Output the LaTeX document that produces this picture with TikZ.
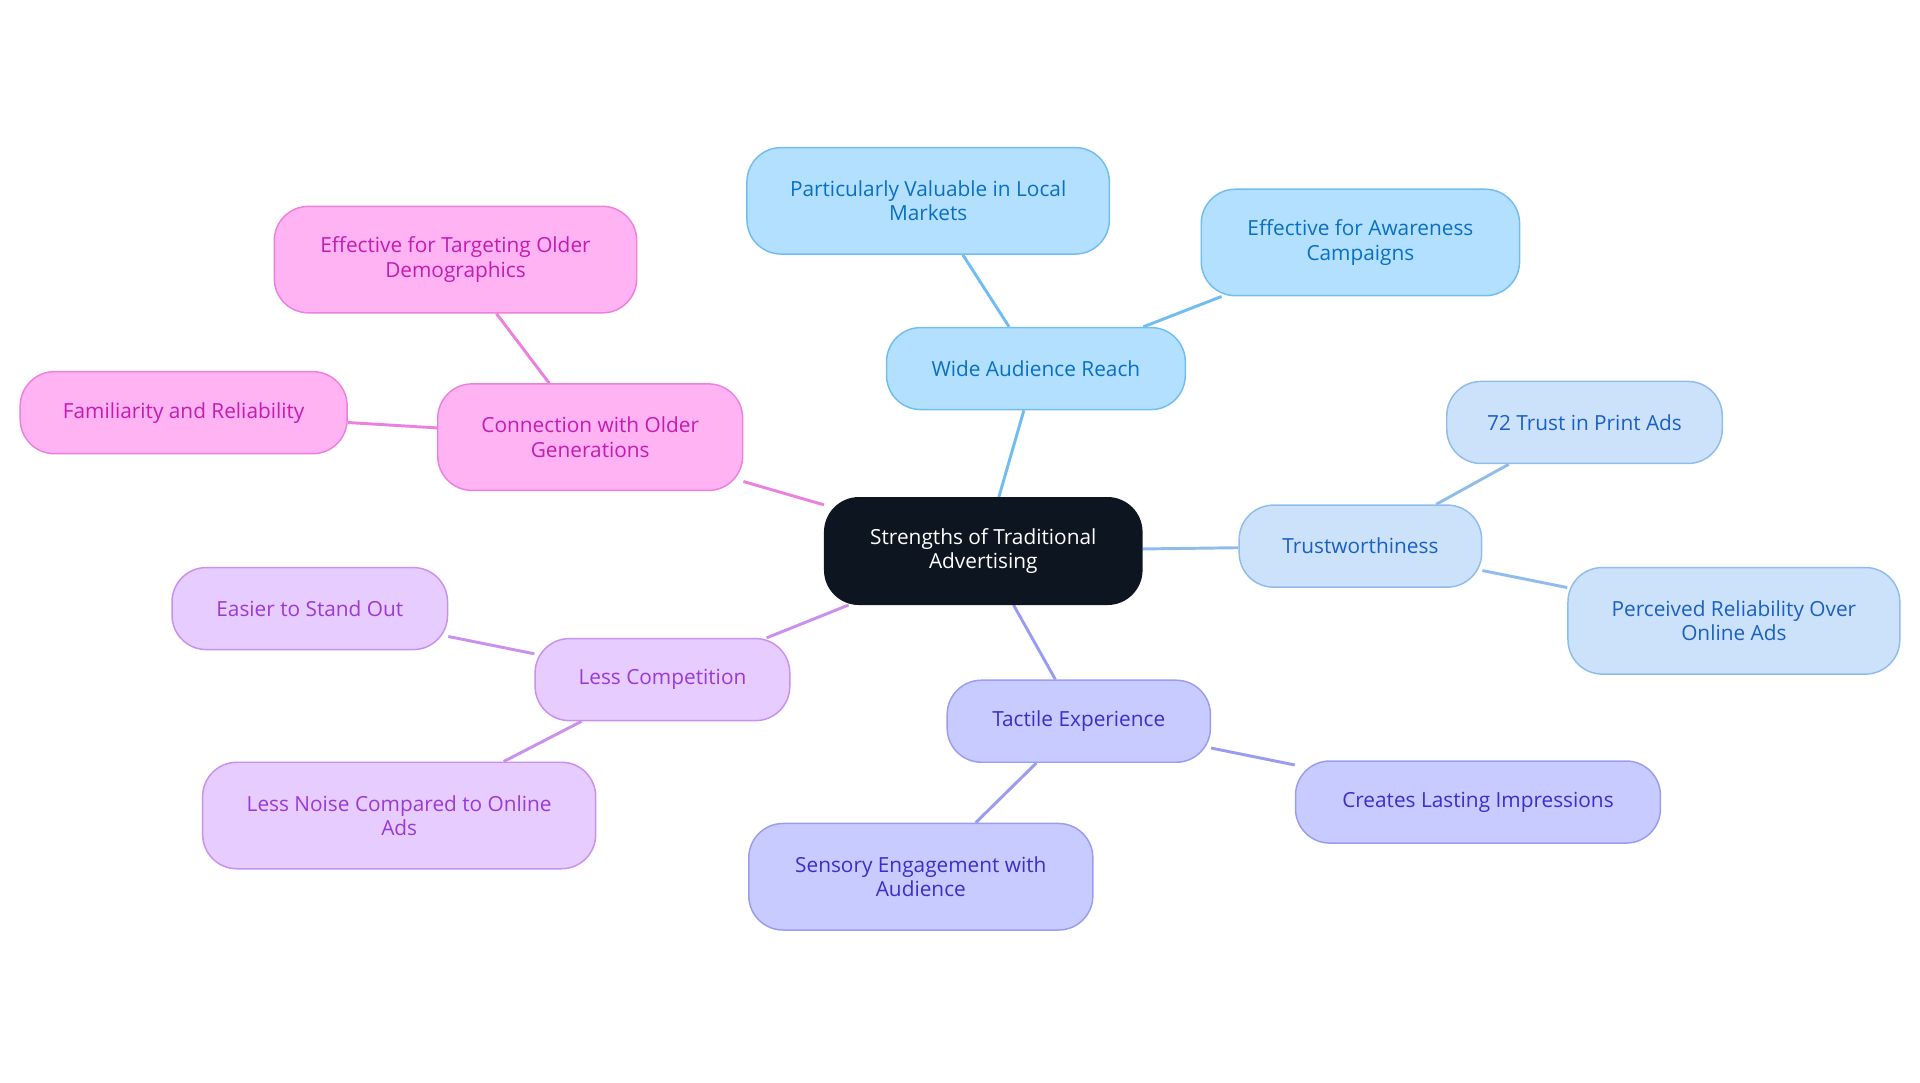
\documentclass[tikz,border=0pt]{standalone}
\usepackage{fontspec}
\setmainfont{Open Sans}
\usetikzlibrary{backgrounds}
\definecolor{bF}{HTML}{B3E0FF}\definecolor{bD}{HTML}{72BDF0}\definecolor{bT}{HTML}{0A6FC2}
\definecolor{tF}{HTML}{CCE2FA}\definecolor{tD}{HTML}{90BCEC}\definecolor{tT}{HTML}{1A5FC4}
\definecolor{vF}{HTML}{C8CBFF}\definecolor{vD}{HTML}{9A9CF0}\definecolor{vT}{HTML}{3A2FC8}
\definecolor{pF}{HTML}{E6CCFF}\definecolor{pD}{HTML}{C990EE}\definecolor{pT}{HTML}{9A3AD4}
\definecolor{mF}{HTML}{FFB3F2}\definecolor{mD}{HTML}{EC80DF}\definecolor{mT}{HTML}{C41CB0}
\definecolor{cF}{HTML}{0D1520}
\tikzset{
 box/.style n args={3}{draw=#2,fill=#1,text=#3,rounded corners=14pt,line width=0.6pt,align=center,inner sep=0pt,font=\fontsize{8.5}{10}\selectfont},
 sz/.style n args={2}{minimum width=#1*0.5pt,minimum height=#2*0.5pt},
 B/.style={box={bF}{bD}{bT}}, T/.style={box={tF}{tD}{tT}}, V/.style={box={vF}{vD}{vT}},
 P/.style={box={pF}{pD}{pT}}, M/.style={box={mF}{mD}{mT}},
 ed/.style={line width=1.2pt,draw=#1}
}
\begin{document}
\begin{tikzpicture}[x=0.5pt,y=-0.5pt]
\useasboundingbox (0,0) rectangle (1568,884);
\node[box={cF}{cF}{white},sz={259}{87}] (c) at (803,450) {Strengths of Traditional\\Advertising};
\node[B,sz={244}{67}] (w) at (846,301) {Wide Audience Reach};
\node[B,sz={296}{87}] (w1) at (758,164) {Particularly Valuable in Local\\Markets};
\node[B,sz={260}{87}] (w2) at (1111,198) {Effective for Awareness\\Campaigns};
\node[T,sz={198}{67}] (t) at (1111,446) {Trustworthiness};
\node[T,sz={225}{67}] (t1) at (1294,345) {72 Trust in Print Ads};
\node[T,sz={271}{87}] (t2) at (1416,507) {Perceived Reliability Over\\Online Ads};
\node[V,sz={215}{67}] (v) at (881,589) {Tactile Experience};
\node[V,sz={298}{67}] (v1) at (1207,655) {Creates Lasting Impressions};
\node[V,sz={281}{87}] (v2) at (752,716) {Sensory Engagement with\\Audience};
\node[P,sz={208}{67}] (p) at (541,555) {Less Competition};
\node[P,sz={225}{67}] (p1) at (253,497) {Easier to Stand Out};
\node[P,sz={321}{87}] (p2) at (326,666) {Less Noise Compared to Online\\Ads};
\node[M,sz={249}{87}] (m) at (482,357) {Connection with Older\\Generations};
\node[M,sz={296}{87}] (m1) at (372,212) {Effective for Targeting Older\\Demographics};
\node[M,sz={267}{67}] (m2) at (150,337) {Familiarity and Reliability};
\begin{scope}[on background layer]
\draw[ed=bD] (c)--(w) (w)--(w1) (w)--(w2);
\draw[ed=tD] (c)--(t) (t)--(t1) (t)--(t2);
\draw[ed=vD] (c)--(v) (v)--(v1) (v)--(v2);
\draw[ed=pD] (c)--(p) (p)--(p1) (p)--(p2);
\draw[ed=mD] (c)--(m) (m)--(m1) (m)--(m2);
\end{scope}
\end{tikzpicture}
\end{document}
